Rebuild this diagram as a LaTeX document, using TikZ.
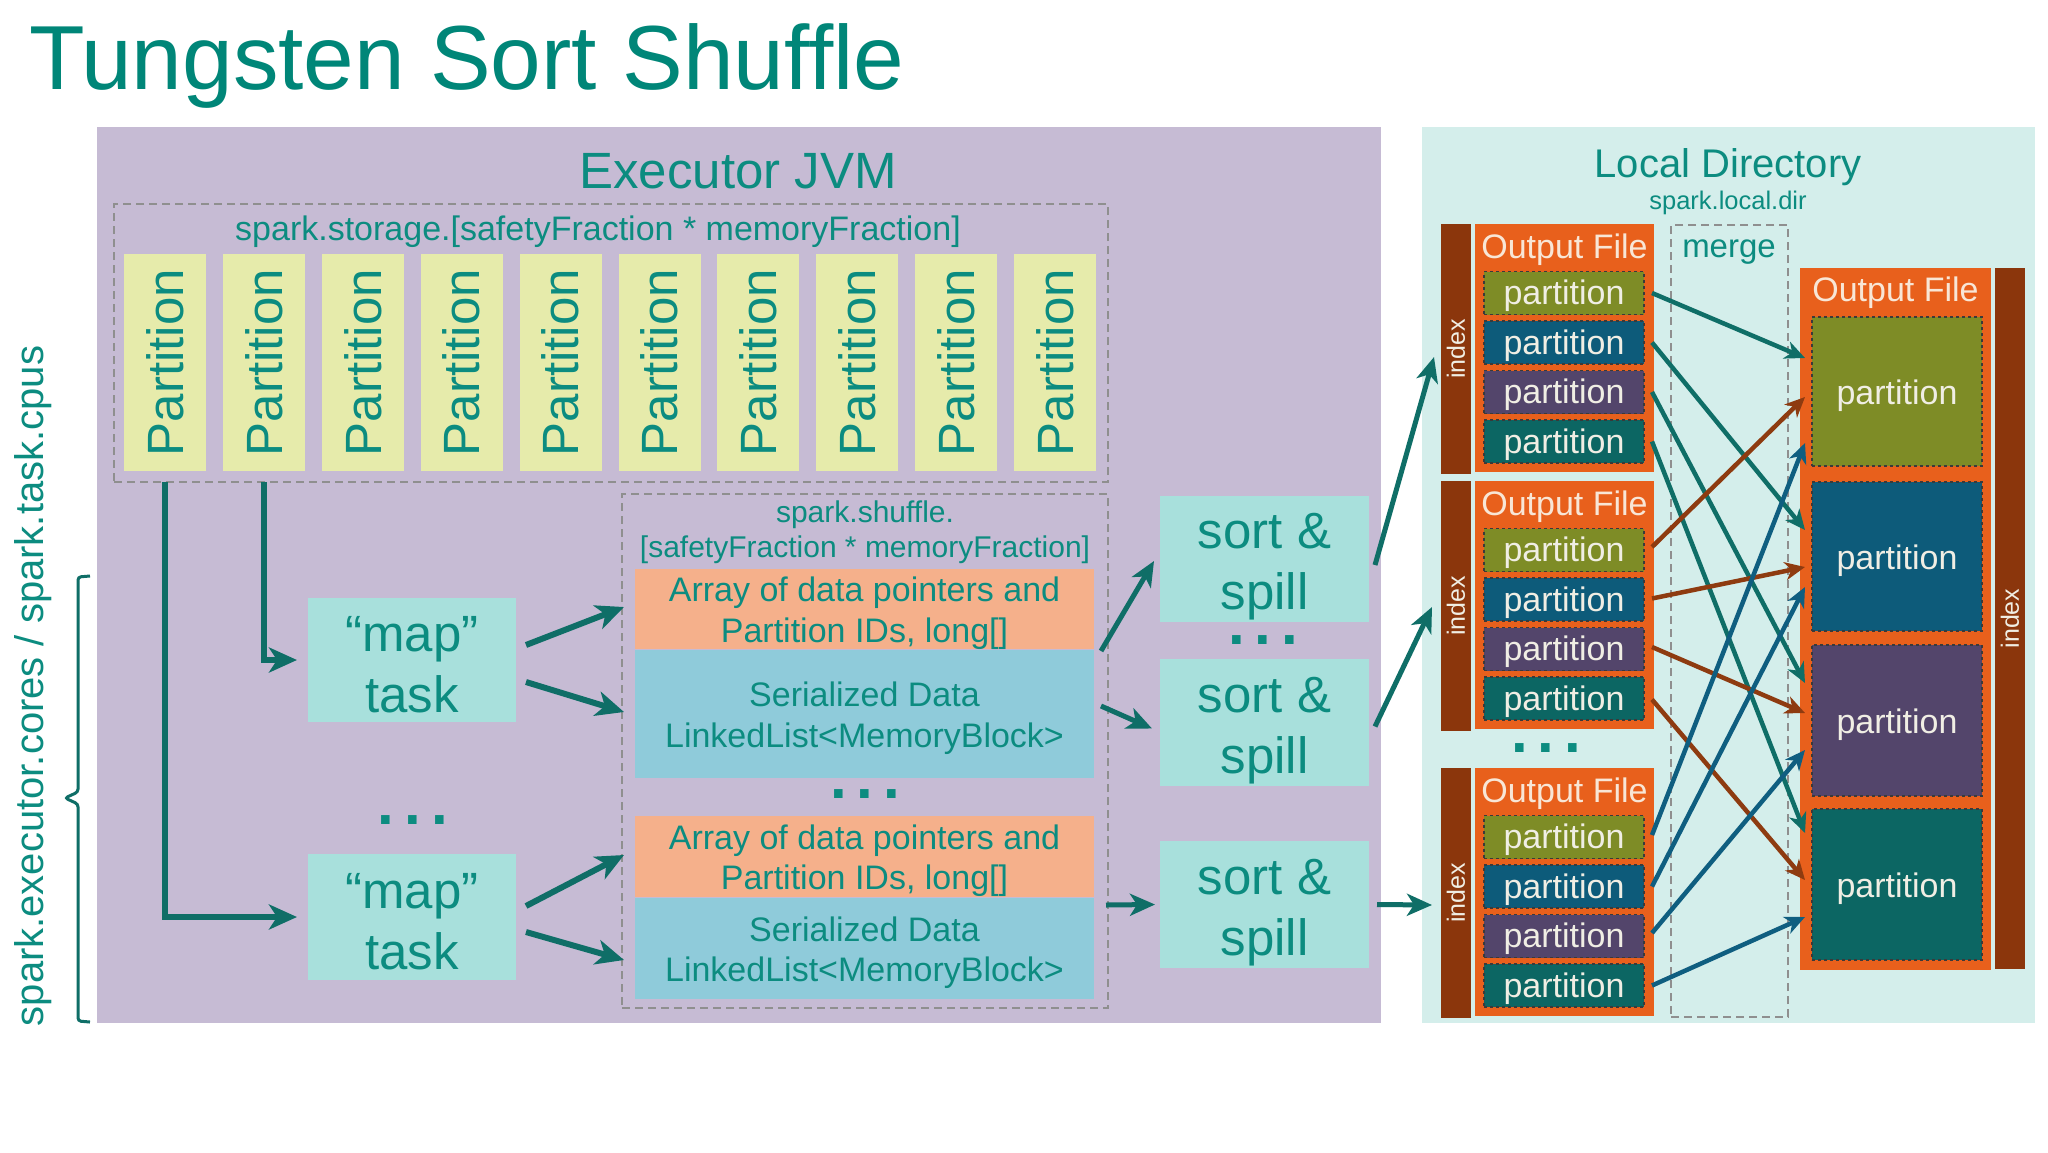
\documentclass[tikz,border=0pt]{standalone}
\usepackage{fontspec}
\setmainfont{Liberation Sans}
\usetikzlibrary{arrows.meta,calc}
\definecolor{titlecol}{HTML}{008678}
\definecolor{txtteal}{HTML}{0C8C80}
\definecolor{lineteal}{HTML}{0F6E67}
\definecolor{jvmbg}{HTML}{C6BBD4}
\definecolor{locbg}{HTML}{D4EEEB}
\definecolor{partfill}{HTML}{E6EBAB}
\definecolor{mapfill}{HTML}{A8E0DC}
\definecolor{arrfill}{HTML}{F5B08B}
\definecolor{serfill}{HTML}{8FCBDA}
\definecolor{filefill}{HTML}{E8601C}
\definecolor{idxfill}{HTML}{8B360C}
\definecolor{polive}{HTML}{7E8C26}
\definecolor{pblue}{HTML}{0D5B7A}
\definecolor{ppurple}{HTML}{53456B}
\definecolor{pteal}{HTML}{0C6663}
\definecolor{dashgray}{HTML}{8F8F8F}
\definecolor{pdash}{HTML}{3A3A3A}
\definecolor{ptext}{HTML}{F0EEE4}
\definecolor{ftext}{HTML}{F8E6D6}
\definecolor{cbrown}{HTML}{8E3B10}
\definecolor{cblue}{HTML}{0F5E80}
\begin{document}
\begin{tikzpicture}[x=1pt,y=-1pt,
  every node/.style={inner sep=0pt, outer sep=0pt},
  fs/.style={font=\fontsize{#1pt}{#1pt}\selectfont},
  panelbox/.style={draw=none, rectangle},
  dashbox/.style={draw=dashgray, line width=2pt, dash pattern=on 8pt off 5pt, rectangle},
  pbox/.style={fill=partfill, rectangle, rotate=90, minimum width=217pt, minimum height=82pt, text=txtteal, fs=51},
  bigbox/.style={fill=mapfill, rectangle},
  bigtext/.style={text=txtteal, align=center, font=\fontsize{51pt}{61pt}\selectfont},
  membox/.style={rectangle, minimum width=459pt},
  memtext/.style={text=txtteal, align=center, font=\fontsize{34pt}{40.5pt}\selectfont},
  filebox/.style={fill=filefill, rectangle, minimum width=179pt, minimum height=248pt},
  idxbar/.style={fill=idxfill, rectangle, minimum width=30pt, minimum height=250pt},
  idxtext/.style={rotate=90, text=ptext, fs=25},
  fpart/.style={rectangle, draw=pdash, dashed, line width=1.6pt, minimum width=160pt, minimum height=43pt},
  rpart/.style={rectangle, draw=pdash, dashed, line width=1.6pt, minimum width=170pt, minimum height=149pt},
  ptxt/.style={text=ptext, fs=34},
  ftitle/.style={text=ftext, fs=34},
  dots/.style={anchor=base, text=txtteal, text height=9pt, text depth=0pt, font=\fontsize{60pt}{60pt}\selectfont\bfseries},
  arr/.style={draw=lineteal, line width=6pt, -{Stealth[length=28pt,width=25pt,inset=8pt]}},
  sarr/.style={draw=lineteal, line width=5pt, -{Stealth[length=25pt,width=22pt,inset=7pt]}},
  xarr/.style={line width=4.5pt, -{Stealth[length=20pt,width=18pt,inset=6pt]}},
]
\path[use as bounding box, fill=white] (0,0) rectangle (2048,1152);

% title
\node[anchor=base west, text=titlecol, fs=91] (title) at (29,89) {Tungsten Sort Shuffle};

% panels
\node[panelbox, fill=jvmbg, minimum width=1284pt, minimum height=896pt] (jvm) at (739,575) {};
\node[panelbox, fill=locbg, minimum width=613pt, minimum height=896pt] (loc) at (1728.5,575) {};

\node[text=txtteal, fs=51] (jvmlabel) at (738,171) {Executor JVM};
\node[text=txtteal, fs=40] (loclabel) at (1728,167) {Local Directory};
\node[text=txtteal, fs=25.5] (locdir) at (1728,203) {spark.local.dir};

% storage
\node[dashbox, minimum width=994pt, minimum height=278pt] (st) at (611,343) {};
\node[text=txtteal, fs=34] (stlabel) at (598,232) {spark.storage.[safetyFraction * memoryFraction]};
\foreach \i in {0,...,9} {
  \node[pbox] (P\i) at ({165+98.9*\i},362.5) {Partition};
}

% shuffle memory
\node[dashbox, minimum width=486pt, minimum height=514pt] (sh) at (865,751) {};
\node[text=txtteal, align=center, font=\fontsize{30pt}{35pt}\selectfont] (shlabel) at (865,532.5) {spark.shuffle.\\{}[safetyFraction * memoryFraction]};
\node[membox, fill=arrfill, minimum height=80pt] (o1) at (864.5,609) {};
\node[memtext] (o1t) at ($(o1.center)+(0,4)$) {Array of data pointers and\\Partition IDs, long[]};
\node[membox, fill=serfill, minimum height=128pt] (b1) at (864.5,714) {};
\node[memtext] (b1t) at ($(b1.center)+(0,4)$) {Serialized Data\\LinkedList<MemoryBlock>};
\node[dots] (dsh) at (865,798) {.\hspace{10pt}.\hspace{10pt}.};
\node[membox, fill=arrfill, minimum height=81pt] (o2) at (864.5,856.5) {};
\node[memtext] (o2t) at ($(o2.center)+(0,4)$) {Array of data pointers and\\Partition IDs, long[]};
\node[membox, fill=serfill, minimum height=101pt] (b2) at (864.5,948.5) {};
\node[memtext] (b2t) at ($(b2.center)+(0,4)$) {Serialized Data\\LinkedList<MemoryBlock>};

% map tasks
\node[bigbox, minimum width=208pt, minimum height=124pt] (m1) at (412,660) {};
\node[bigtext] (m1t) at ($(m1.center)+(0,5)$) {“map”\\task};
\node[dots] (dm) at (413,824) {.\hspace{10pt}.\hspace{10pt}.};
\node[bigbox, minimum width=208pt, minimum height=126pt] (m2) at (412,917) {};
\node[bigtext] (m2t) at ($(m2.center)+(0,5)$) {“map”\\task};

% sort & spill
\node[bigbox, minimum width=209pt, minimum height=126pt] (s1) at (1264.5,559) {};
\node[bigtext] (s1t) at ($(s1.center)+(0,8)$) {sort \&\\spill};
\node[dots] (ds) at (1263,644) {.\hspace{10pt}.\hspace{10pt}.};
\node[bigbox, minimum width=209pt, minimum height=127pt] (s2) at (1264.5,722.5) {};
\node[bigtext] (s2t) at ($(s2.center)+(0,8)$) {sort \&\\spill};
\node[bigbox, minimum width=209pt, minimum height=127pt] (s3) at (1264.5,904.5) {};
\node[bigtext] (s3t) at ($(s3.center)+(0,8)$) {sort \&\\spill};

% merge box
\node[dashbox, minimum width=117pt, minimum height=792pt] (mg) at (1729.5,621) {};
\node[text=txtteal, fs=33] (mglabel) at (1729,252) {merge};

% output files (left)
\node[idxbar] (i1) at (1456,349) {};
\node[idxtext] (i1t) at (i1.center) {index};
\node[filebox] (F1) at (1564.5,348) {};
\node[ftitle] (F1t) at (1564.5,250) {Output File};
\node[fpart, fill=polive] (f1a) at (1564,293) {};
\node[fpart, fill=pblue] (f1b) at (1564,342.5) {};
\node[fpart, fill=ppurple] (f1c) at (1564,392) {};
\node[fpart, fill=pteal] (f1d) at (1564,441.5) {};

\node[idxbar] (i2) at (1456,606) {};
\node[idxtext] (i2t) at (i2.center) {index};
\node[filebox] (F2) at (1564.5,605) {};
\node[ftitle] (F2t) at (1564.5,507) {Output File};
\node[fpart, fill=polive] (f2a) at (1564,550) {};
\node[fpart, fill=pblue] (f2b) at (1564,599.5) {};
\node[fpart, fill=ppurple] (f2c) at (1564,649) {};
\node[fpart, fill=pteal] (f2d) at (1564,698.5) {};

\node[dots] (df) at (1546,752) {.\hspace{10pt}.\hspace{10pt}.};

\node[idxbar] (i3) at (1456,893) {};
\node[idxtext] (i3t) at (i3.center) {index};
\node[filebox] (F3) at (1564.5,892) {};
\node[ftitle] (F3t) at (1564.5,794) {Output File};
\node[fpart, fill=polive] (f3a) at (1564,837) {};
\node[fpart, fill=pblue] (f3b) at (1564,886.5) {};
\node[fpart, fill=ppurple] (f3c) at (1564,936) {};
\node[fpart, fill=pteal] (f3d) at (1564,985.5) {};

\foreach \n in {f1a,f1b,f1c,f1d,f2a,f2b,f2c,f2d,f3a,f3b,f3c,f3d} {
  \node[ptxt] (\n t) at ($(\n.center)+(0,3)$) {partition};
}

% merged output file (right)
\node[fill=filefill, rectangle, minimum width=191pt, minimum height=702pt] (RF) at (1895.5,619) {};
\node[idxbar, minimum height=701pt] (ir) at (2010,618.5) {};
\node[idxtext] (irt) at (ir.center) {index};
\node[ftitle] (RFt) at (1895.5,293) {Output File};
\node[rpart, fill=polive] (R1) at (1897,391.5) {};
\node[rpart, fill=pblue] (R2) at (1897,556.5) {};
\node[rpart, fill=ppurple, minimum height=151pt] (R3) at (1897,720.5) {};
\node[rpart, fill=pteal, minimum height=151pt] (R4) at (1897,884.5) {};
\foreach \n in {R1,R2,R3,R4} {
  \node[ptxt] (\n t) at ($(\n.center)+(0,4)$) {partition};
}

% brace and side label
\draw[lineteal, line width=3pt, rounded corners=3pt] (90,576) -- (78,577) -- (78,792) -- (65,798) -- (78,804) -- (78,1021) -- (90,1022);
\node[rotate=90, text=txtteal, fs=40] (side) at (33,686) {spark.executor.cores / spark.task.cpus};

% storage -> map tasks
\draw[arr, shorten >=11pt] (st.south -| P0) |- (m2.west);
\draw[arr, shorten >=11pt] (st.south -| P1) |- (m1.west);

% map -> memory
\draw[arr] ($(m1.east)+(10,-15)$) -- ($(o1.west)+(-11,-2)$);
\draw[arr] ($(m1.east)+(10,22)$) -- ($(b1.west)+(-11,-2)$);
\draw[arr] ($(m2.east)+(10,-11)$) -- ($(o2.west)+(-11,-1.5)$);
\draw[arr] ($(m2.east)+(10,15)$) -- ($(b2.west)+(-11,11.5)$);

% memory -> sort & spill
\draw[sarr] ($(o1.south east)+(7,2)$) -- ($(s1.west)+(-6,2)$);
\draw[sarr] ($(b1.north east)+(7,56)$) -- ($(s2.west)+(-8,6)$);
\draw[sarr] ($(b2.north east)+(12,7)$) -- ($(s3.west)+(-5,0)$);

% sort & spill -> output files
\draw[sarr] ($(s1.east)+(6,6)$) -- ($(i1.west)+(-7,8)$);
\draw[sarr] ($(s2.east)+(6,4)$) -- ($(i2.west)+(-9,1)$);
\draw[sarr] ($(s3.east)+(8,0)$) -- ($(i3.west)+(-9,12)$);

% merge arrows
\draw[xarr, draw=lineteal] ($(f1a.east)+(8,0)$) -- ($(R1.west)+(-7,-33.5)$);
\draw[xarr, draw=lineteal] ($(f1b.east)+(8,0)$) -- ($(R2.west)+(-7,-26.5)$);
\draw[xarr, draw=lineteal] ($(f1c.east)+(8,0)$) -- ($(R3.west)+(-7,-37.5)$);
\draw[xarr, draw=lineteal] ($(f1d.east)+(8,0)$) -- ($(R4.west)+(-7,-51.5)$);
\draw[xarr, draw=cbrown] ($(f2a.east)+(8,-3)$) -- ($(R1.west)+(-7,5.5)$);
\draw[xarr, draw=cbrown] ($(f2b.east)+(8,-1)$) -- ($(R2.west)+(-7,10.5)$);
\draw[xarr, draw=cbrown] ($(f2c.east)+(8,-2)$) -- ($(R3.west)+(-7,-7.5)$);
\draw[xarr, draw=cbrown] ($(f2d.east)+(8,1)$) -- ($(R4.west)+(-7,-4.5)$);
\draw[xarr, draw=cblue] ($(f3a.east)+(8,-2)$) -- ($(R1.west)+(-7,51.5)$);
\draw[xarr, draw=cblue] ($(f3b.east)+(8,0)$) -- ($(R2.west)+(-7,30.5)$);
\draw[xarr, draw=cblue] ($(f3c.east)+(8,-3)$) -- ($(R3.west)+(-7,29.5)$);
\draw[xarr, draw=cblue] ($(f3d.east)+(8,0)$) -- ($(R4.west)+(-7,32.5)$);
\end{tikzpicture}
\end{document}
